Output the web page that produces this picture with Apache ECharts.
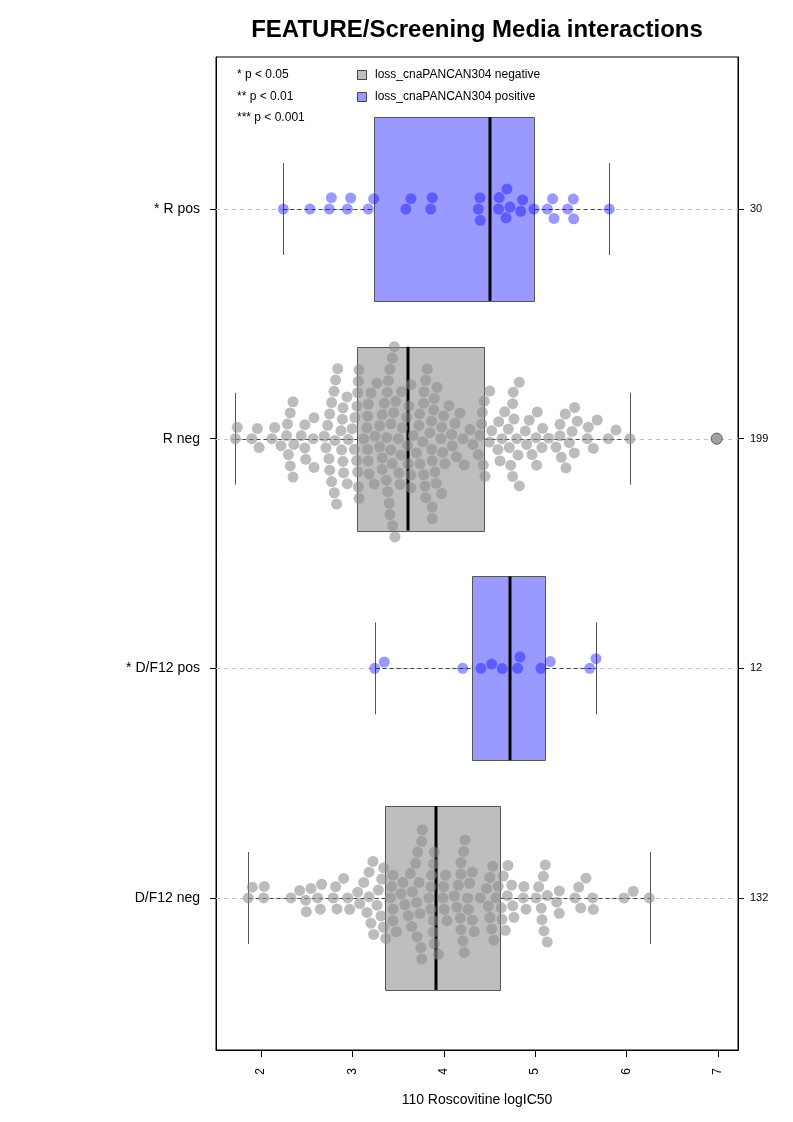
<!DOCTYPE html>
<html><head><meta charset="utf-8">
<script src="https://cdn.jsdelivr.net/npm/echarts@6/dist/echarts.min.js"></script>
<style>html,body{margin:0;padding:0;background:#fff}#c{width:793px;height:1122px}</style>
</head><body><div id="c"></div>
<script>
// ---------------- DATA ----------------
const titleText = 'FEATURE/Screening Media interactions';
const xAxisTitle = '110 Roscovitine logIC50';
const categories = ['* R pos', 'R neg', '* D/F12 pos', 'D/F12 neg'];
const groupCounts = ['30', '199', '12', '132'];
const groupStatus = ['positive', 'negative', 'positive', 'negative'];
const xTicks = [2, 3, 4, 5, 6, 7];
const sigLegend = ['* p < 0.05', '** p < 0.01', '*** p < 0.001'];
const statusLegend = ['loss_cnaPANCAN304 negative', 'loss_cnaPANCAN304 positive'];

const rPos = [2.244, 2.536, 2.747, 2.770, 2.945, 2.981, 3.174, 3.233, 3.586, 3.641, 3.856, 3.874,
  4.378, 4.396, 4.399, 4.600, 4.607, 4.691, 4.724, 4.681, 4.841, 4.863, 4.987, 5.133, 5.191, 5.206,
  5.355, 5.417, 5.421, 5.811];

const rNeg = [1.72, 1.74, 1.90, 1.96, 1.98, 2.12, 2.15, 2.22,
  2.28, 2.29, 2.32, 2.35, 2.36, 2.30, 2.32, 2.35,
  2.44, 2.48, 2.48, 2.49, 2.57, 2.58, 2.58,
  2.693, 2.711, 2.730, 2.744, 2.752, 2.752, 2.773, 2.773, 2.802, 2.799, 2.828, 2.817, 2.839,
  2.810, 2.883, 2.897, 2.904, 2.944, 2.875, 2.890, 2.897, 2.941, 2.955,
  3.072, 3.058, 3.058, 3.047, 3.028, 2.999, 3.021, 3.050, 3.065, 3.065, 3.072,
  3.240, 3.182, 3.174, 3.160, 3.124, 3.167, 3.167, 3.174, 3.204, 3.247,
  3.327, 3.327, 3.298, 3.269, 3.298, 3.327, 3.349, 3.375, 3.386, 3.371, 3.382, 3.404, 3.411, 3.437, 3.411, 3.419, 3.459, 3.466,
  3.441, 3.422, 3.393, 3.437, 3.452, 3.474, 3.521, 3.503, 3.546, 3.539, 3.510, 3.532,
  3.641, 3.612, 3.641, 3.594, 3.667, 3.605, 3.619, 3.641,
  3.740, 3.700, 3.794, 3.729, 3.802, 3.736, 3.772, 3.780, 3.802, 3.780, 3.783, 3.820, 3.874,
  3.874, 3.849, 3.926, 3.867, 3.969, 3.867, 3.977, 3.889, 4.013, 3.904, 3.988, 3.874, 3.896, 3.918, 3.999, 3.977,
  4.093, 4.057, 4.086, 4.123, 4.210, 4.137, 4.224, 4.177,
  4.319, 4.287, 4.377, 4.432, 4.415, 4.443, 4.396, 4.421, 4.451, 4.502, 4.498, 4.524,
  4.637, 4.601, 4.593, 4.615, 4.717, 4.732, 4.760, 4.812, 4.666, 4.706, 4.754, 4.754, 4.768, 4.826, 4.826, 4.798,
  4.892, 4.907, 5.016, 5.082, 5.009, 4.935, 4.965, 5.023, 5.074, 5.148, 5.228, 5.271, 5.271, 5.329, 5.432, 5.461,
  5.403, 5.373, 5.428, 5.286, 5.337, 5.570, 5.581, 5.636, 5.679, 5.800, 5.884, 6.037, 6.986];

const dPos = [3.244, 3.349, 4.207, 4.407, 4.524, 4.640, 4.808, 4.834, 5.063, 5.165, 5.596, 5.665];

const dNeg = [1.861, 1.905, 2.030, 2.036, 2.328, 2.423, 2.489, 2.496, 2.547, 2.620, 2.649, 2.664,
  2.791, 2.817, 2.831, 2.904, 2.949, 2.970, 3.058, 3.080, 3.124,
  3.182, 3.160, 3.182, 3.225, 3.203, 3.233, 3.284, 3.269, 3.313, 3.338, 3.321, 3.343, 3.365,
  3.444, 3.444, 3.415, 3.430, 3.444, 3.481, 3.532, 3.554, 3.576, 3.612, 3.634, 3.649, 3.656, 3.692,
  3.703, 3.707, 3.714, 3.740, 3.759, 3.750, 3.729, 3.759, 3.765,
  3.896, 3.889, 3.867, 3.860, 3.838, 3.860, 3.885, 3.885, 3.896, 3.940,
  4.020, 4.005, 3.991, 3.999, 4.035, 4.115, 4.159, 4.144, 4.181, 4.188, 4.210, 4.224, 4.268, 4.188,
  4.188, 4.218, 4.232, 4.283, 4.261, 4.312, 4.312, 4.334, 4.399,
  4.487, 4.505, 4.524, 4.549, 4.469, 4.505, 4.535, 4.571, 4.596, 4.629, 4.637, 4.673, 4.651, 4.702,
  4.695, 4.743, 4.754, 4.768, 4.870, 4.877, 4.899, 5.009, 5.038, 5.067, 5.074, 5.096, 5.132, 5.089,
  5.111, 5.132, 5.235, 5.264, 5.264, 5.435, 5.476, 5.498, 5.556, 5.629, 5.636, 5.971, 6.073, 6.248];

const groupValues = [rPos, rNeg, dPos, dNeg];

const boxQ1 = [3.233, 3.054, 4.305, 3.357];
const boxMedian = [4.509, 3.612, 4.728, 3.915];
const boxQ3 = [4.987, 4.436, 5.111, 4.618];
const whiskerLow = [2.244, 1.72, 3.244, 1.861];
const whiskerHigh = [5.811, 6.037, 5.665, 6.256];
const outlierValues = [[], [6.986], [], []];

// ---------------- STYLE ----------------
const FONT = '"Liberation Sans", Arial, Helvetica, sans-serif';
const X_MIN = 1.508, X_MAX = 7.219, Y_MIN = 0.338, Y_MAX = 4.662;
const BOX_HALF = 0.4, STAPLE_HALF = 0.2;
const boxFill = { positive: '#9999FF', negative: '#BEBEBE' };
const pointColor = { positive: 'rgba(0,0,255,0.40)', negative: 'rgba(140,140,140,0.58)' };
const PT = 11;

const chart = echarts.init(document.getElementById('c'), null, { renderer: 'canvas' });

const rowTicks = categories.map((c, i) => i + 1);

const baseOption = {
  animation: false,
  textStyle: { fontFamily: FONT },
  grid: { left: 216, right: 55, top: 57, bottom: 72, show: true, borderColor: '#000', borderWidth: 1, backgroundColor: 'transparent' },
  xAxis: {
    type: 'value', min: X_MIN, max: X_MAX,
    axisLine: { show: true, lineStyle: { color: '#000' } },
    axisTick: { show: true, length: 7, customValues: xTicks, lineStyle: { color: '#000' } },
    axisLabel: { customValues: xTicks, rotate: 90, margin: 18, fontSize: 12, color: '#000', fontFamily: FONT, formatter: v => String(v) },
    splitLine: { show: false }
  },
  yAxis: [{
    type: 'value', inverse: true, min: Y_MIN, max: Y_MAX, position: 'left',
    axisLine: { show: true, lineStyle: { color: '#000' } },
    axisTick: { show: true, length: 6, customValues: rowTicks, lineStyle: { color: '#000' } },
    axisLabel: { customValues: rowTicks, margin: 16, fontSize: 14, color: '#000', fontFamily: FONT,
      formatter: v => categories[Math.round(v) - 1] },
    splitLine: { show: false }
  }, {
    type: 'value', inverse: true, min: Y_MIN, max: Y_MAX, position: 'right',
    axisLine: { show: true, lineStyle: { color: '#000' } },
    axisTick: { show: true, length: 6, customValues: rowTicks, lineStyle: { color: '#000' } },
    axisLabel: { customValues: rowTicks, margin: 12, fontSize: 11, color: '#000', fontFamily: FONT,
      formatter: v => groupCounts[Math.round(v) - 1] },
    splitLine: { show: false }
  }],
  series: []
};
chart.setOption(baseOption);

// pixel scale from the library's own axes
const p0 = chart.convertToPixel({ gridIndex: 0 }, [2, 1]);
const p1 = chart.convertToPixel({ gridIndex: 0 }, [3, 2]);
const xppu = Math.abs(p1[0] - p0[0]);
const yppu = Math.abs(p1[1] - p0[1]);

// beeswarm ("swarm" method, ascending priority) offsets; ties favour upward placement
function swarmOffsets(values, d) {
  const order = values.map((v, i) => i).sort((a, b) => values[a] - values[b]);
  const placed = [];
  const offs = new Array(values.length).fill(0);
  for (const i of order) {
    const x = values[i] * xppu;
    const cands = [0];
    for (const p of placed) {
      const dx = x - p.x;
      if (Math.abs(dx) < d) {
        const dy = Math.sqrt(d * d - dx * dx);
        cands.push(p.y + dy, p.y - dy);
      }
    }
    cands.sort((a, b) => Math.abs(a) - Math.abs(b) || a - b);
    let chosen = 0;
    for (const c of cands) {
      let ok = true;
      for (const p of placed) {
        const dx = x - p.x, dy = c - p.y;
        if (dx * dx + dy * dy < d * d - 1e-6) { ok = false; break; }
      }
      if (ok) { chosen = c; break; }
    }
    placed.push({ x, y: chosen });
    offs[i] = chosen / yppu;
  }
  return offs;
}

const series = [];

// light dashed row guide lines
series.push({
  type: 'custom', z: 1, silent: true,
  data: rowTicks.map(r => [r]),
  encode: { y: 0 },
  renderItem: (params, api) => {
    const r = api.value(0);
    const a = api.coord([X_MIN, r]), b = api.coord([X_MAX, r]);
    return { type: 'line', shape: { x1: a[0], y1: Math.round(a[1]) + 0.5, x2: b[0], y2: Math.round(b[1]) + 0.5 },
      style: { stroke: '#c4c4c4', lineWidth: 1, lineDash: [4, 4] } };
  }
});

// box plots
series.push({
  type: 'custom', z: 2, silent: true,
  data: categories.map((c, i) => [i + 1, boxQ1[i], boxMedian[i], boxQ3[i], whiskerLow[i], whiskerHigh[i]]),
  encode: { y: 0, x: [1, 2, 3, 4, 5] },
  renderItem: (params, api) => {
    const r = api.value(0), q1 = api.value(1), md = api.value(2), q3 = api.value(3), lo = api.value(4), hi = api.value(5);
    const fill = boxFill[groupStatus[params.dataIndex]];
    const c = (x, y) => api.coord([x, y]);
    const cy = Math.round(c(X_MIN, r)[1]) + 0.5;
    const top = c(q1, r - BOX_HALF)[1], bot = c(q1, r + BOX_HALF)[1];
    const sTop = c(lo, r - STAPLE_HALF)[1], sBot = c(lo, r + STAPLE_HALF)[1];
    const X = v => Math.round(c(v, r)[0]) + 0.5;
    return { type: 'group', children: [
      { type: 'line', shape: { x1: X(lo), y1: cy, x2: X(q1), y2: cy }, style: { stroke: '#444', lineWidth: 1, lineDash: [4, 3] } },
      { type: 'line', shape: { x1: X(q3), y1: cy, x2: X(hi), y2: cy }, style: { stroke: '#444', lineWidth: 1, lineDash: [4, 3] } },
      { type: 'line', shape: { x1: X(lo), y1: sTop, x2: X(lo), y2: sBot }, style: { stroke: '#555', lineWidth: 1 } },
      { type: 'line', shape: { x1: X(hi), y1: sTop, x2: X(hi), y2: sBot }, style: { stroke: '#555', lineWidth: 1 } },
      { type: 'rect', shape: { x: X(q1), y: Math.round(top) + 0.5, width: X(q3) - X(q1), height: Math.round(bot) - Math.round(top) },
        style: { fill: fill, stroke: '#555', lineWidth: 1 } },
      { type: 'line', shape: { x1: Math.round(c(md, r)[0]), y1: top, x2: Math.round(c(md, r)[0]), y2: bot }, style: { stroke: '#000', lineWidth: 3 } }
    ] };
  }
});

// outliers (boxplot symbol)
groupValues.forEach((vals, gi) => {
  if (outlierValues[gi].length) {
    series.push({
      type: 'scatter', z: 3, silent: true, symbol: 'circle', symbolSize: PT,
      itemStyle: { color: boxFill[groupStatus[gi]], borderColor: '#444', borderWidth: 1, opacity: 1 },
      data: outlierValues[gi].map(v => [v, gi + 1])
    });
  }
});

// swarm points
groupValues.forEach((vals, gi) => {
  const offs = swarmOffsets(vals, PT + 0.5);
  series.push({
    type: 'scatter', z: 4, silent: true, symbol: 'circle', symbolSize: PT,
    itemStyle: { color: pointColor[groupStatus[gi]], borderWidth: 0, opacity: 1 },
    data: vals.map((v, i) => [v, gi + 1 + offs[i]])
  });
});

chart.setOption({
  series: series,
  graphic: [
    { type: 'text', x: 477, y: 30, style: { text: titleText, font: 'bold 24px ' + FONT, fill: '#000', textAlign: 'center', textVerticalAlign: 'middle' } },
    { type: 'text', x: 477, y: 1100, style: { text: xAxisTitle, font: '14px ' + FONT, fill: '#000', textAlign: 'center', textVerticalAlign: 'middle' } },
    { type: 'text', x: 237, y: 75, style: { text: sigLegend[0], font: '12px ' + FONT, fill: '#000', textVerticalAlign: 'middle' } },
    { type: 'text', x: 237, y: 97, style: { text: sigLegend[1], font: '12px ' + FONT, fill: '#000', textVerticalAlign: 'middle' } },
    { type: 'text', x: 237, y: 118, style: { text: sigLegend[2], font: '12px ' + FONT, fill: '#000', textVerticalAlign: 'middle' } },
    { type: 'rect', shape: { x: 357.5, y: 70.5, width: 9, height: 9 }, style: { fill: boxFill.negative, stroke: '#444', lineWidth: 1 } },
    { type: 'rect', shape: { x: 357.5, y: 92.5, width: 9, height: 9 }, style: { fill: boxFill.positive, stroke: '#444', lineWidth: 1 } },
    { type: 'text', x: 375, y: 75, style: { text: statusLegend[0], font: '12px ' + FONT, fill: '#000', textVerticalAlign: 'middle' } },
    { type: 'text', x: 375, y: 97, style: { text: statusLegend[1], font: '12px ' + FONT, fill: '#000', textVerticalAlign: 'middle' } }
  ]
});
</script>
</body></html>
